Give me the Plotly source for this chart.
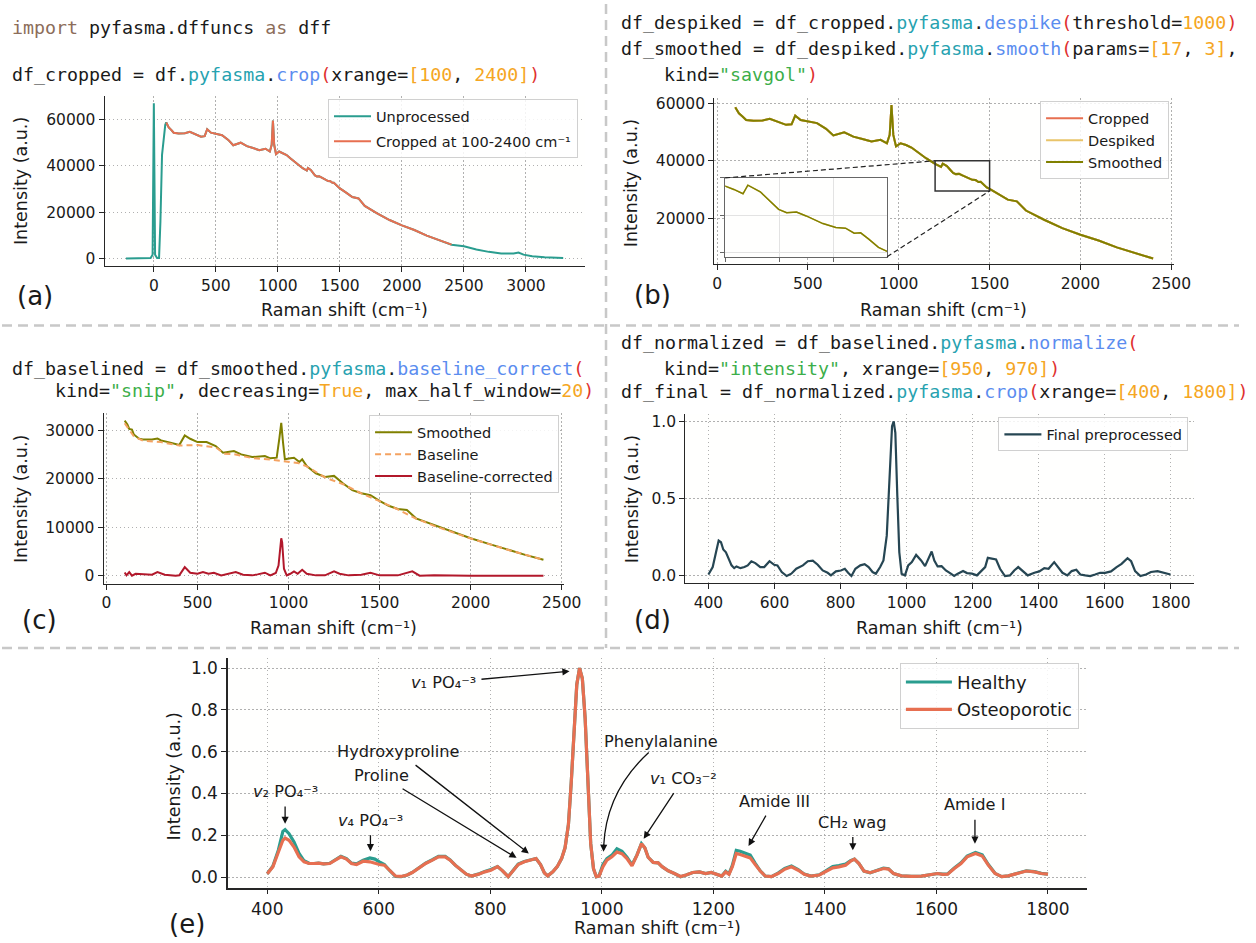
import plotly.graph_objects as go

W, H = 1256, 943

# ------------------------------------------------------------------ data
# (a) raw spectrum parts outside the 100-2400 crop window
raw_head_x = [-225, -150, -80, -26, -10, 0, 10, 26, 42, 53, 66, 79, 92]
raw_head_y = [0, 60, 150, 300, 1700, 66900, 1700, 300, 300, 16000, 44700, 51800, 57600]
raw_tail_x = [2500, 2600, 2700, 2800, 2900, 2940, 2980, 3050, 3150, 3300]
raw_tail_y = [5300, 3900, 2900, 2150, 2150, 2600, 1700, 1000, 570, 290]

# (a)/(b) cropped spectrum 100-2400
spec_x = [100, 120, 140, 160, 200, 250, 290, 330, 380, 410, 430, 460, 500, 550, 600, 640,
          700, 750, 800, 850, 900, 935, 950, 960, 970, 985, 1010, 1040, 1070, 1100, 1150,
          1200, 1216, 1233, 1242, 1265, 1283, 1299, 1314, 1332, 1350, 1381, 1405, 1423,
          1439, 1451, 1466, 1484, 1500, 1550, 1600, 1650, 1700, 1800, 1900, 2000, 2100,
          2200, 2300, 2400]
spec_y = [58600, 56500, 55400, 54200, 53900, 54000, 54600, 53600, 52500, 52700, 55700, 54200,
          53600, 53100, 51100, 48800, 49900, 48400, 47600, 46700, 47300, 46100, 49000, 59400,
          49000, 45000, 46100, 45500, 44600, 43200, 40900, 38900, 38460, 37880, 39030, 38150,
          36900, 35800, 35370, 35450, 34930, 33910, 33380, 33300, 32630, 32680, 31840, 30740,
          30200, 28400, 26500, 25900, 22700, 19500, 16600, 14300, 12300, 9900, 8000, 6000]

# (c) smoothed spectrum, baseline and baseline-corrected
c_x = [100, 115, 125, 140, 150, 180, 200, 250, 280, 300, 340, 400, 430, 460, 500, 550, 600,
       640, 700, 740, 800, 870, 900, 935, 950, 960, 970, 980, 1010, 1030, 1060, 1075, 1100,
       1150, 1200, 1250, 1300, 1350, 1400, 1450, 1500, 1550, 1600, 1650, 1700, 1750, 1800,
       1900, 2000, 2100, 2200, 2300, 2400]
c_smooth = [32050, 31230, 30340, 30200, 29180, 28290, 28150, 28150, 28350, 27940, 27600, 26990,
            28970, 28290, 27600, 27600, 26780, 25410, 25750, 25070, 24520, 24730, 24250, 24380,
            28490, 31570, 27460, 24040, 24250, 24380, 23490, 24040, 22670, 21160, 20410, 20620,
            19040, 17670, 17050, 16640, 15480, 14450, 13770, 13560, 11850, 11160, 10340, 8970,
            7740, 6580, 5410, 4310, 3290]
base_x = [100, 150, 200, 300, 400, 500, 600, 650, 700, 800, 900, 1000, 1050, 1100, 1200, 1300,
          1400, 1500, 1600, 1700, 1800, 2000, 2200, 2400]
base_y = [31500, 28800, 27900, 27600, 26900, 27000, 26500, 25200, 25100, 24300, 24000, 23600,
          23300, 22600, 20300, 18900, 17000, 15400, 13700, 11800, 10300, 7700, 5400, 3290]
corr_x = [100, 110, 125, 140, 160, 200, 250, 280, 320, 380, 400, 430, 460, 500, 530, 560, 590,
          630, 680, 710, 750, 800, 830, 870, 900, 930, 945, 955, 960, 965, 975, 990, 1010, 1030,
          1050, 1075, 1100, 1150, 1200, 1250, 1280, 1330, 1400, 1450, 1500, 1600, 1680, 1720,
          1800, 2000, 2200, 2400]
corr_y = [680, 70, 750, 0, 400, 270, 200, 750, 200, 0, 70, 1780, 620, 410, 750, 410, 620, 70,
          400, 750, 200, 70, 270, 620, 70, 550, 2100, 6900, 7740, 6900, 1440, 70, 400, 900, 400,
          1230, 400, 70, 70, 900, 400, 70, 200, 620, 70, 70, 900, 0, 70, 0, 30, 0]

# (d) final preprocessed spectrum
d_x = [400, 413, 423, 431, 438, 445, 453, 461, 470, 478, 485, 497, 509, 519, 530, 542, 557, 569,
       585, 599, 609, 622, 637, 651, 666, 686, 701, 716, 731, 746, 761, 771, 786, 801, 813, 823,
       833, 845, 860, 873, 885, 897, 907, 920, 930, 940, 948, 956, 961, 966, 972, 978, 985, 995,
       1005, 1016, 1029, 1044, 1056, 1066, 1076, 1084, 1094, 1106, 1119, 1134, 1144, 1155, 1171,
       1183, 1198, 1213, 1228, 1238, 1246, 1258, 1271, 1283, 1298, 1313, 1326, 1338, 1350, 1367,
       1387, 1402, 1417, 1430, 1447, 1460, 1472, 1487, 1500, 1514, 1526, 1541, 1556, 1571, 1586,
       1601, 1619, 1636, 1651, 1669, 1680, 1692, 1708, 1725, 1740, 1760, 1779, 1799]
d_y = [0.006, 0.054, 0.15, 0.226, 0.215, 0.168, 0.15, 0.114, 0.065, 0.047, 0.058, 0.047, 0.054,
       0.065, 0.092, 0.08, 0.054, 0.054, 0.092, 0.069, 0.065, 0.022, -0.004, 0.011, 0.043, 0.065,
       0.092, 0.095, 0.069, 0.032, 0.017, 0.0, 0.026, 0.032, 0.043, 0.017, -0.004, 0.043, 0.065,
       0.073, 0.054, 0.022, 0.011, 0.054, 0.097, 0.258, 0.62, 0.968, 1.0, 0.925, 0.516, 0.15,
       0.011, 0.0, 0.065, 0.086, 0.133, 0.097, 0.06, 0.108, 0.155, 0.097, 0.058, 0.06, 0.032,
       0.011, -0.004, 0.011, 0.028, 0.015, 0.011, 0.0, 0.032, 0.054, 0.114, 0.108, 0.103, 0.043,
       -0.004, 0.0, 0.032, 0.054, 0.032, 0.0, 0.017, 0.026, 0.047, 0.043, 0.086, 0.054, 0.017,
       0.0, 0.028, 0.037, 0.006, 0.0, -0.004, 0.006, 0.017, 0.017, 0.026, 0.054, 0.075, 0.112,
       0.092, 0.028, -0.004, 0.006, 0.022, 0.028, 0.015, 0.006]

# (e) healthy vs osteoporotic mean spectra
e_x = [400, 410, 420, 428, 432, 439, 448, 457, 466, 475, 484, 492, 501, 512, 522, 532, 542, 551,
       560, 572, 584, 593, 601, 610, 619, 630, 640, 651, 660, 672, 684, 696, 707, 719, 728, 737,
       749, 757, 766, 778, 790, 801, 813, 822, 832, 842, 850, 861, 873, 882, 890, 897, 903, 912,
       920, 928, 934, 940, 945, 950, 955, 960, 965, 970, 975, 980, 985, 990, 995, 1002, 1009,
       1018, 1027, 1036, 1045, 1054, 1063, 1071, 1077, 1083, 1092, 1101, 1108, 1119, 1130, 1141,
       1151, 1163, 1175, 1186, 1196, 1207, 1215, 1222, 1228, 1234, 1241, 1248, 1257, 1266, 1275,
       1284, 1293, 1304, 1316, 1328, 1340, 1352, 1363, 1375, 1390, 1402, 1414, 1425, 1437, 1446,
       1453, 1461, 1470, 1481, 1493, 1505, 1514, 1523, 1537, 1555, 1573, 1590, 1602, 1611, 1620,
       1632, 1644, 1655, 1670, 1682, 1693, 1705, 1717, 1729, 1744, 1761, 1776, 1788, 1800]
e_osteo = [0.016, 0.049, 0.12, 0.176, 0.187, 0.176, 0.144, 0.097, 0.073, 0.065, 0.065, 0.067,
           0.063, 0.065, 0.081, 0.097, 0.086, 0.065, 0.06, 0.076, 0.073, 0.065, 0.06, 0.057,
           0.033, 0.005, 0.003, 0.01, 0.022, 0.044, 0.065, 0.081, 0.097, 0.097, 0.081, 0.057,
           0.029, 0.014, 0.005, 0.013, 0.025, 0.033, 0.05, 0.03, 0.002, 0.035, 0.06, 0.073, 0.081,
           0.089, 0.06, 0.02, 0.006, 0.025, 0.05, 0.09, 0.14, 0.25, 0.45, 0.72, 0.92, 1.0, 0.95,
           0.76, 0.45, 0.16, 0.04, 0.002, 0.005, 0.05, 0.081, 0.097, 0.12, 0.112, 0.089, 0.054,
           0.105, 0.16, 0.14, 0.095, 0.07, 0.068, 0.05, 0.03, 0.017, 0.003, 0.01, 0.022, 0.025,
           0.017, 0.022, 0.01, 0.005, 0.025, 0.013, 0.05, 0.113, 0.108, 0.101, 0.092, 0.06, 0.029,
           0.005, 0.002, 0.017, 0.038, 0.049, 0.033, 0.013, 0.005, 0.01, 0.029, 0.044, 0.049,
           0.057, 0.076, 0.086, 0.065, 0.029, 0.021, 0.03, 0.041, 0.038, 0.017, 0.006, 0.003,
           0.005, 0.01, 0.017, 0.013, 0.014, 0.041, 0.065, 0.097, 0.113, 0.101, 0.057, 0.017,
           0.002, 0.006, 0.017, 0.029, 0.025, 0.017, 0.014]
e_healthy = [0.016, 0.052, 0.13, 0.219, 0.227, 0.208, 0.168, 0.113, 0.078, 0.066, 0.065, 0.067,
             0.063, 0.066, 0.083, 0.099, 0.088, 0.067, 0.063, 0.081, 0.092, 0.086, 0.073, 0.06,
             0.033, 0.003, 0.002, 0.01, 0.022, 0.046, 0.067, 0.083, 0.099, 0.099, 0.082, 0.057,
             0.029, 0.014, 0.005, 0.014, 0.027, 0.036, 0.05, 0.03, 0.002, 0.035, 0.062, 0.075,
             0.083, 0.089, 0.06, 0.02, 0.006, 0.025, 0.05, 0.09, 0.14, 0.25, 0.45, 0.72, 0.92,
             1.0, 0.95, 0.76, 0.45, 0.16, 0.04, 0.002, 0.006, 0.06, 0.088, 0.105, 0.136, 0.124,
             0.095, 0.058, 0.106, 0.16, 0.14, 0.095, 0.07, 0.068, 0.05, 0.03, 0.017, 0.002, 0.01,
             0.022, 0.025, 0.017, 0.022, 0.01, 0.005, 0.028, 0.015, 0.056, 0.128, 0.124, 0.113,
             0.105, 0.066, 0.03, 0.005, 0.002, 0.019, 0.042, 0.053, 0.036, 0.014, 0.005, 0.011,
             0.031, 0.05, 0.055, 0.062, 0.078, 0.086, 0.065, 0.029, 0.021, 0.031, 0.043, 0.04,
             0.017, 0.006, 0.003, 0.005, 0.01, 0.017, 0.014, 0.015, 0.043, 0.068, 0.1, 0.118,
             0.106, 0.06, 0.018, 0.002, 0.006, 0.018, 0.03, 0.026, 0.018, 0.014]

# ------------------------------------------------------------------ styles
TEAL, ORANGE, OLIVE = "#2a9d8f", "#e76f51", "#808000"
YELLOW, SANDY, RED, DARK = "#e9c46a", "#f4a261", "#b2182b", "#264653"
FONT = "DejaVu Sans"
MONO = "DejaVu Sans Mono"
KW, PKG, FN, PAR, NUM, STR = "#8c6d5a", "#27a2b0", "#5b8def", "#e0302f", "#f5a623", "#3cae4a"
CODE_SIZE = 18.3
TITLE_SIZE = 17.5


def px_x(p):
    return p / W


def px_y(p):
    return 1 - p / H


def axis(dom, rng, tickvals, fmt="d", size=15.5, **kw):
    d = dict(domain=dom, range=rng, tickvals=tickvals, tickformat=fmt, showline=True,
             linecolor="#262626", linewidth=1.3, ticks="outside", ticklen=5, tickwidth=1.3,
             tickcolor="#262626", showgrid=True, gridcolor="#b0b0b0", griddash="1.5px,2.5px",
             gridwidth=1.2, zeroline=False,
             tickfont=dict(family=FONT, size=size, color="#1a1a1a"), fixedrange=True)
    d.update(kw)
    return d


# domains (paper fractions) from pixel boxes
A_X, A_Y = [px_x(104.3), px_x(592)], [px_y(264), px_y(93)]
B_X, B_Y = [px_x(723.3), px_x(1190)], [px_y(261.7), px_y(95)]
C_X, C_Y = [px_x(103.3), px_x(571)], [px_y(583.3), px_y(411.7)]
D_X, D_Y = [px_x(693.8), px_x(1210.2)], [px_y(582.8), px_y(412.3)]
E_X, E_Y = [px_x(229.7), px_x(1101.7)], [px_y(889.2), px_y(657.8)]
I_X, I_Y = [px_x(734.3), px_x(898.7)], [px_y(254.3), px_y(175)]

A_XR, A_YR = [-396, 3476], [-3325, 69825]
B_XR, B_YR = [-15, 2515], [4100, 61700]
C_XR, C_YR = [-15, 2515], [-1630, 33600]
D_XR, D_YR = [330, 1870], [-0.05, 1.05]
E_XR, E_YR = [330, 1870], [-0.05, 1.05]
I_XR, I_YR = [1200, 1500], [29500, 40000]

fig = go.Figure()


def line(x, y, color, width, name, xa, ya, leg, show=True, dash=None):
    fig.add_trace(go.Scatter(x=x, y=y, mode="lines", name=name, xaxis=xa, yaxis=ya,
                             line=dict(color=color, width=width, dash=dash),
                             legend=leg, legendgroup=name + xa, showlegend=show,
                             hoverinfo="skip"))


# (a)
raw_x = raw_head_x + spec_x + raw_tail_x
raw_y = raw_head_y + spec_y + raw_tail_y
line(raw_x, raw_y, TEAL, 2, "Unprocessed", "x", "y", "legend")
line(spec_x, spec_y, ORANGE, 2, "Cropped at 100-2400 cm⁻¹", "x", "y", "legend")
# (b)
line(spec_x, spec_y, ORANGE, 2, "Cropped", "x2", "y2", "legend2")
line(spec_x, spec_y, YELLOW, 2, "Despiked", "x2", "y2", "legend2")
line(spec_x, spec_y, OLIVE, 2, "Smoothed", "x2", "y2", "legend2")
# inset of (b)
line(spec_x, spec_y, YELLOW, 1.5, "Despiked", "x6", "y6", "legend2", show=False)
line(spec_x, spec_y, OLIVE, 1.5, "Smoothed", "x6", "y6", "legend2", show=False)
# (c)
line(c_x, c_smooth, OLIVE, 2, "Smoothed", "x3", "y3", "legend3")
line(base_x, base_y, SANDY, 2, "Baseline", "x3", "y3", "legend3", dash="6px,4px")
line(corr_x, corr_y, RED, 2, "Baseline-corrected", "x3", "y3", "legend3")
# (d)
line(d_x, d_y, DARK, 2.2, "Final preprocessed", "x4", "y4", "legend4")
# (e)
line(e_x, e_healthy, TEAL, 3.2, "Healthy", "x5", "y5", "legend5")
line(e_x, e_osteo, ORANGE, 3.2, "Osteoporotic", "x5", "y5", "legend5")

layout = dict(
    width=W, height=H, margin=dict(l=0, r=0, t=0, b=0),
    paper_bgcolor="white", plot_bgcolor="#fffffe",
    font=dict(family=FONT, color="#1a1a1a"),
    xaxis=axis(A_X, A_XR, [0, 500, 1000, 1500, 2000, 2500, 3000], anchor="y"),
    yaxis=axis(A_Y, A_YR, [0, 20000, 40000, 60000], anchor="x"),
    xaxis2=axis(B_X, B_XR, [0, 500, 1000, 1500, 2000, 2500], anchor="y2"),
    yaxis2=axis(B_Y, B_YR, [20000, 40000, 60000], anchor="x2"),
    xaxis3=axis(C_X, C_XR, [0, 500, 1000, 1500, 2000, 2500], anchor="y3"),
    yaxis3=axis(C_Y, C_YR, [0, 10000, 20000, 30000], anchor="x3"),
    xaxis4=axis(D_X, D_XR, [400, 600, 800, 1000, 1200, 1400, 1600, 1800], anchor="y4"),
    yaxis4=axis(D_Y, D_YR, [0, 0.5, 1.0], fmt=".1f", anchor="x4"),
    xaxis5=axis(E_X, E_XR, [400, 600, 800, 1000, 1200, 1400, 1600, 1800], size=17, anchor="y5",
                linewidth=1.8),
    yaxis5=axis(E_Y, E_YR, [0, 0.2, 0.4, 0.6, 0.8, 1.0], fmt=".1f", size=17, anchor="x5",
                linewidth=1.8),
    xaxis6=axis(I_X, I_XR, [1200, 1300, 1400], anchor="y6", showticklabels=False,
                mirror=True, linecolor="#666666", tickcolor="#666666", griddash="solid",
                gridcolor="#e3e3e3", gridwidth=1, ticklen=4),
    yaxis6=axis(I_Y, I_YR, [30000, 35000, 40000], anchor="x6", showticklabels=False,
                mirror=True, linecolor="#666666", tickcolor="#666666", griddash="solid",
                gridcolor="#e3e3e3", gridwidth=1, ticklen=4),
)


def legend(x, y, size, gap, iw):
    return dict(x=px_x(x), y=px_y(y), xanchor="left", yanchor="top",
                bgcolor="rgba(255,255,255,0.85)", bordercolor="#d0d0d0", borderwidth=1,
                font=dict(family=FONT, size=size, color="#1a1a1a"),
                tracegroupgap=gap, traceorder="grouped", itemwidth=iw)


layout["legend"] = legend(331, 96, 14.5, 3, 37)
layout["legend2"] = legend(1054, 98, 14.5, 0, 37)
layout["legend3"] = legend(372.7, 414, 14.5, 0, 37)
layout["legend4"] = legend(1011.7, 416, 14.5, 0, 37)
layout["legend5"] = legend(911.7, 663, 18, 1, 46)
fig.update_layout(**layout)

# ------------------------------------------------------------------ texts
ann = []


def text(x, y, s, size=TITLE_SIZE, angle=0, family=FONT, xanchor="center", yanchor="middle"):
    ann.append(dict(x=px_x(x), y=px_y(y), xref="paper", yref="paper", text=s,
                    showarrow=False, textangle=angle, xanchor=xanchor, yanchor=yanchor,
                    font=dict(family=family, size=size, color="#1a1a1a")))


def sp(t, c):
    return f'<span style="color:{c}">{t}</span>'


XT = "Raman shift (cm⁻¹)"
YT = "Intensity (a.u.)"
for (xx, xy, yx, yy) in [(348, 308, 19.5, 178), (956, 308, 639, 180), (337, 628, 19.5, 498),
                         (952, 628, 639, 498), (666, 930, 175, 777)]:
    text(xx, xy, XT)
    text(yx, yy, YT, angle=-90)

for lab, x, y in [("(a)", 34, 294), ("(b)", 660, 293), ("(c)", 38, 620), ("(d)", 660, 620),
                  ("(e)", 188, 926)]:
    text(x, y, lab, size=26)

code = [
    (8.6, 23.5, sp("import", KW) + " pyfasma.dffuncs " + sp("as", KW) + " dff"),
    (8.6, 70.5, "df_cropped = df." + sp("pyfasma", PKG) + "." + sp("crop", FN) + sp("(", PAR)
     + "xrange=" + sp("[100", NUM) + ", " + sp("2400]", NUM) + sp(")", PAR)),
    (626.6, 18.5, "df_despiked = df_cropped." + sp("pyfasma", PKG) + "." + sp("despike", FN)
     + sp("(", PAR) + "threshold=" + sp("1000", NUM) + sp(")", PAR)),
    (626.6, 45.1, "df_smoothed = df_despiked." + sp("pyfasma", PKG) + "." + sp("smooth", FN)
     + sp("(", PAR) + "params=" + sp("[17", NUM) + ", " + sp("3]", NUM) + ","),
    (670.6, 70.5, "kind=" + sp('"savgol"', STR) + sp(")", PAR)),
    (7.8, 367.1, "df_baselined = df_smoothed." + sp("pyfasma", PKG) + "."
     + sp("baseline_correct", FN) + sp("(", PAR)),
    (51.8, 388.8, "kind=" + sp('"snip"', STR) + ", decreasing=" + sp("True", NUM)
     + ", max_half_window=" + sp("20", NUM) + sp(")", PAR)),
    (626.6, 341.1, "df_normalized = df_baselined." + sp("pyfasma", PKG) + "."
     + sp("normalize", FN) + sp("(", PAR)),
    (670.6, 366.8, "kind=" + sp('"intensity"', STR) + ", xrange=" + sp("[950", NUM) + ", "
     + sp("970]", NUM) + sp(")", PAR)),
    (626.6, 389.5, "df_final = df_normalized." + sp("pyfasma", PKG) + "." + sp("crop", FN)
     + sp("(", PAR) + "xrange=" + sp("[400", NUM) + ", " + sp("1800]", NUM) + sp(")", PAR)),
]
for x, y, s in code:
    text(x, y, s, size=CODE_SIZE, family=MONO, xanchor="left")

# (e) peak annotations: (label, text x, text y, tip x, tip y)
PO4 = "PO₄⁻³"
peaks = [
    ("<i>v</i>₁ " + PO4, 716, 0.93, 942, 0.985),
    ("Hydroxyproline", 635, 0.60, 869, 0.113),
    ("Proline", 604, 0.485, 847, 0.092),
    ("<i>v</i>₂ " + PO4, 432, 0.41, 432, 0.255),
    ("<i>v</i>₄ " + PO4, 585, 0.272, 585, 0.124),
    ("<i>v</i>₁ CO₃⁻²", 1146, 0.47, 1075, 0.184),
    ("Amide III", 1309, 0.363, 1263, 0.149),
    ("CH₂ wag", 1450, 0.263, 1450, 0.128),
    ("Amide I", 1669, 0.346, 1669, 0.16),
]
for lab, tx, ty, hx, hy in peaks:
    ann.append(dict(x=hx, y=hy, ax=tx, ay=ty, xref="x5", yref="y5", axref="x5", ayref="y5",
                    text=lab, showarrow=True, arrowhead=2, arrowsize=1.1, arrowwidth=1.3,
                    arrowcolor="#111111", startstandoff=4, standoff=0,
                    font=dict(family=FONT, size=16.2, color="#1a1a1a")))
# Phenylalanine: curved arrow (body drawn as a path shape, head as an arrow)
ann.append(dict(x=1105.6, y=0.651, xref="x5", yref="y5", text="Phenylalanine", showarrow=False,
                font=dict(family=FONT, size=16.2, color="#1a1a1a")))
ann.append(dict(x=1003, y=0.121, ax=1003.5, ay=0.175, xref="x5", yref="y5", axref="x5",
                ayref="y5", text=" ", showarrow=True, arrowhead=2, arrowsize=1.1,
                arrowwidth=1.3, arrowcolor="#111111", standoff=0,
                font=dict(family=FONT, size=4, color="#1a1a1a")))

fig.update_layout(annotations=ann)

# ------------------------------------------------------------------ shapes
shapes = []
DIV = dict(color="#c8c8c8", width=2.5, dash="10px,6px")
shapes.append(dict(type="line", xref="paper", yref="paper", x0=px_x(613.3), x1=px_x(613.3),
                   y0=1, y1=px_y(648), line=DIV))
shapes.append(dict(type="line", xref="paper", yref="paper", x0=0, x1=1,
                   y0=px_y(323.5), y1=px_y(323.5), line=DIV))
shapes.append(dict(type="line", xref="paper", yref="paper", x0=0, x1=1,
                   y0=px_y(648), y1=px_y(648), line=DIV))

# zoom rectangle in (b) and connector lines to the inset
shapes.append(dict(type="rect", xref="x2", yref="y2", x0=I_XR[0], x1=I_XR[1],
                   y0=I_YR[0], y1=I_YR[1], line=dict(color="#333333", width=1.5)))


def to_paper(v, dom, rng):
    return dom[0] + (v - rng[0]) / (rng[1] - rng[0]) * (dom[1] - dom[0])


CON = dict(color="#222222", width=1.2, dash="5px,3px")
shapes.append(dict(type="line", xref="paper", yref="paper",
                   x0=I_X[0], y0=I_Y[1],
                   x1=to_paper(I_XR[0], B_X, B_XR), y1=to_paper(I_YR[1], B_Y, B_YR), line=CON))
shapes.append(dict(type="line", xref="paper", yref="paper",
                   x0=I_X[1], y0=I_Y[0],
                   x1=to_paper(I_XR[1], B_X, B_XR), y1=to_paper(I_YR[0], B_Y, B_YR), line=CON))
# curved arrow body for Phenylalanine
shapes.append(dict(type="path", xref="x5", yref="y5",
                   path="M 1084,0.596 Q 1008,0.41 1003.3,0.15",
                   line=dict(color="#111111", width=1.3)))
fig.update_layout(shapes=shapes)

fig.write_html("out.html")
